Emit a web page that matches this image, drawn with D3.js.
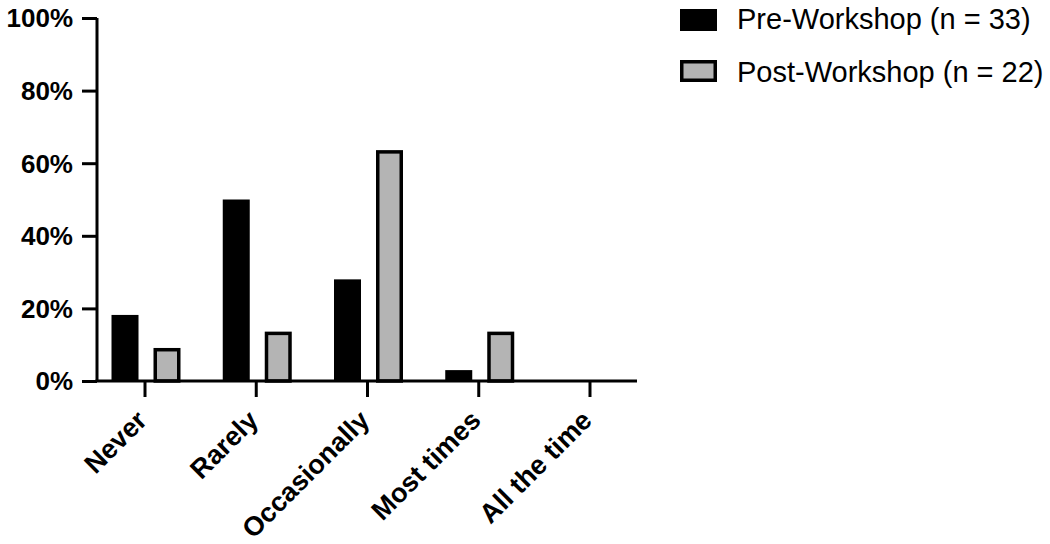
<!DOCTYPE html>
<html><head><meta charset="utf-8">
<script src="https://cdn.jsdelivr.net/npm/d3@7"></script>
<style>body{margin:0;background:#fff}svg{display:block}text{font-family:"Liberation Sans",Arial,sans-serif}</style>
</head><body><svg id="c" width="1050" height="544"></svg>
<script>
const categories = ["Never","Rarely","Occasionally","Most times","All the time"];
const preValues = [18.2, 50.0, 28.0, 3.0, 0];
const postValues = [9.1, 13.6, 63.6, 13.6, 0];
const yTicks = [0,20,40,60,80,100];
const seriesNames = ["Pre-Workshop (n = 33)","Post-Workshop (n = 22)"];

const svg = d3.select("#c");
const x0 = 97, x1 = 637, yB = 381, yT = 18;
const x = d3.scalePoint().domain(categories).range([x0, x1]).padding(0.427);
const y = d3.scaleLinear().domain([0,100]).range([yB, yT]);

// bars
const bw = 27, gap = 15;
const g = svg.append("g");
g.selectAll("rect.pre").data(categories).join("rect").attr("class","pre")
  .attr("x", d => x(d) + 1.5 - gap/2 - bw)
  .attr("y", (d,i) => y(preValues[i]))
  .attr("width", bw)
  .attr("height", (d,i) => yB - y(preValues[i]))
  .attr("fill","#000");
g.selectAll("rect.post").data(categories).join("rect").attr("class","post")
  .attr("x", d => x(d) + 1.5 + gap/2 + 1.75)
  .attr("y", (d,i) => y(postValues[i]) + 1.75)
  .attr("width", bw - 3.5)
  .attr("height", (d,i) => Math.max(0, yB - y(postValues[i]) - 1.75))
  .attr("fill","#b4b4b4").attr("stroke","#000").attr("stroke-width",3.5)
  .style("display",(d,i)=> postValues[i] > 0 ? null : "none");

// y axis
const ya = svg.append("g").attr("transform",`translate(${x0},0)`)
  .call(d3.axisLeft(y).tickValues(yTicks).tickSize(15).tickPadding(9).tickFormat(d => d + "%"));
ya.select(".domain").attr("stroke","#000").attr("stroke-width",3).attr("d",`M0,${yT}V${yB}`);
ya.selectAll(".tick line").attr("stroke","#000").attr("stroke-width",3);
ya.selectAll(".tick text").attr("font-size",26).attr("font-weight","bold").attr("fill","#000")
  .attr("dy","0.34em")
  .style("font-family","'Liberation Sans',Arial,sans-serif");

// x axis
const xa = svg.append("g").attr("transform",`translate(0,${yB})`)
  .call(d3.axisBottom(x).tickSize(16).tickFormat(""));
xa.select(".domain").attr("stroke","#000").attr("stroke-width",3).attr("d",`M${x0-1.5},0H${x1}`);
xa.selectAll(".tick line").attr("stroke","#000").attr("stroke-width",3);
svg.append("g").selectAll("text").data(categories).join("text")
  .attr("transform", d => `translate(${x(d)+4},${yB+41}) rotate(-45)`)
  .attr("text-anchor","end").attr("font-size",27).attr("font-weight","bold").attr("fill","#000")
  .text(d => d);

// legend
const lg = svg.append("g");
const ly = [9, 60];
lg.append("rect").attr("x",680).attr("y",ly[0]).attr("width",37).attr("height",22).attr("fill","#000");
lg.append("rect").attr("x",681.75).attr("y",ly[1]+1.75).attr("width",33.5).attr("height",18.5)
  .attr("fill","#b4b4b4").attr("stroke","#000").attr("stroke-width",3.5);
lg.selectAll("text").data(seriesNames).join("text")
  .attr("x",737).attr("y",(d,i)=> [28.5, 82][i])
  .attr("font-size",29).attr("fill","#000").text(d=>d);
</script></body></html>
